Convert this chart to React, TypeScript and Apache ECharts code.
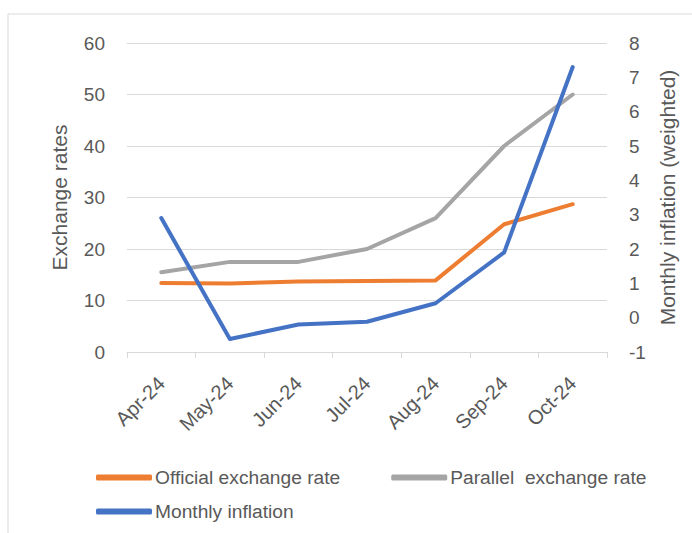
import React, { useEffect, useRef } from "react";
import * as echarts from "echarts";

const categories = ["Apr-24", "May-24", "Jun-24", "Jul-24", "Aug-24", "Sep-24", "Oct-24"];
const officialRate = [13.4, 13.3, 13.7, 13.8, 13.9, 24.8, 28.7];
const parallelRate = [15.5, 17.5, 17.5, 20.0, 26.0, 40.0, 50.0];
const monthlyInflation = [2.9, -0.62, -0.2, -0.12, 0.42, 1.9, 7.3];

const FONT = "Liberation Sans";
const TXT = "#595959";

export default function App() {
  const ref = useRef<HTMLDivElement>(null);
  useEffect(() => {
    if (!ref.current) return;
    const chart = echarts.init(ref.current, undefined, { renderer: "svg" });
    chart.setOption({
      animation: false,
      backgroundColor: "#ffffff",
      textStyle: { fontFamily: FONT, color: TXT },
      graphic: [
        {
          type: "rect",
          shape: { x: 8, y: 14, width: 700, height: 600 },
          style: { fill: "none", stroke: "#d9d9d9", lineWidth: 1 },
          silent: true,
        },
      ],
      grid: { left: 127, right: 85, top: 43, bottom: 181, containLabel: false },
      legend: [
        {
          data: ["Official exchange rate", "Parallel  exchange rate"],
          left: 91,
          top: 463,
          itemWidth: 56,
          itemHeight: 6,
          itemGap: 51,
          icon: "roundRect",
          textStyle: { fontFamily: FONT, fontSize: 19.2, color: TXT, padding: [0, 0, 0, -2] },
        },
        {
          data: ["Monthly inflation"],
          left: 91,
          top: 497,
          itemWidth: 56,
          itemHeight: 6,
          icon: "roundRect",
          textStyle: { fontFamily: FONT, fontSize: 19.2, color: TXT, padding: [0, 0, 0, -2] },
        },
      ],
      xAxis: {
        type: "category",
        data: categories,
        boundaryGap: true,
        axisLine: { lineStyle: { color: "#d9d9d9", width: 1 } },
        axisTick: { show: true, length: 6, lineStyle: { color: "#d9d9d9" } },
        axisLabel: { rotate: 45, fontSize: 20, color: TXT, fontFamily: FONT, margin: 28 },
      },
      yAxis: [
        {
          type: "value",
          min: 0,
          max: 60,
          interval: 10,
          name: "Exchange rates",
          nameLocation: "middle",
          nameGap: 57,
          nameTextStyle: { fontSize: 21, color: TXT, fontFamily: FONT },
          axisLine: { show: false },
          axisTick: { show: false },
          splitLine: { lineStyle: { color: "#d9d9d9", width: 1 } },
          axisLabel: { fontSize: 19, color: TXT, fontFamily: FONT, margin: 22 },
        },
        {
          type: "value",
          min: -1,
          max: 8,
          interval: 1,
          name: "Monthly inflation (weighted)",
          nameLocation: "middle",
          nameGap: 50,
          nameRotate: 90,
          nameTextStyle: { fontSize: 21, color: TXT, fontFamily: FONT },
          axisLine: { show: false },
          axisTick: { show: false },
          splitLine: { show: false },
          axisLabel: { fontSize: 19, color: TXT, fontFamily: FONT, margin: 22 },
        },
      ],
      series: [
        {
          name: "Official exchange rate",
          type: "line",
          data: officialRate,
          yAxisIndex: 0,
          symbol: "none",
          lineStyle: { color: "#ED7D31", width: 4, cap: "round", join: "round" },
          itemStyle: { color: "#ED7D31" },
        },
        {
          name: "Parallel  exchange rate",
          type: "line",
          data: parallelRate,
          yAxisIndex: 0,
          symbol: "none",
          lineStyle: { color: "#A5A5A5", width: 4, cap: "round", join: "round" },
          itemStyle: { color: "#A5A5A5" },
        },
        {
          name: "Monthly inflation",
          type: "line",
          data: monthlyInflation,
          yAxisIndex: 1,
          symbol: "none",
          lineStyle: { color: "#4472C4", width: 4, cap: "round", join: "round" },
          itemStyle: { color: "#4472C4" },
        },
      ],
    });
    return () => chart.dispose();
  }, []);
  return (
    <div
      ref={ref}
      style={{ position: "fixed", left: 0, top: 0, width: 692, height: 533 }}
    />
  );
}
